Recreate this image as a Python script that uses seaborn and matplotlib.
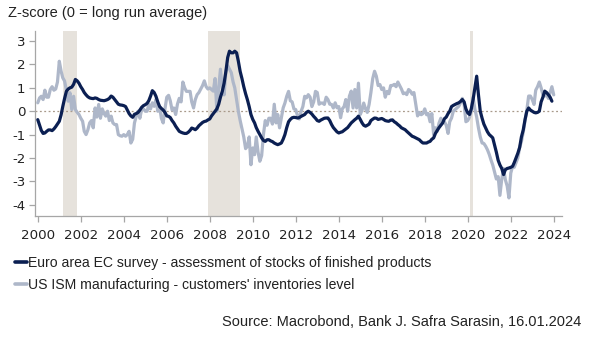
import pandas as pd
import matplotlib
matplotlib.use("Agg")
import matplotlib.pyplot as plt
import matplotlib.dates as mdates
from matplotlib.lines import Line2D
import seaborn as sns

# Monthly z-scores, Jan 2000 onwards
euro_area = [
    -0.36, -0.6, -0.82, -0.95, -0.93, -0.86, -0.8, -0.8, -0.83, -0.76, -0.66, -0.55,   # 2000
    -0.43, -0.15, 0.2, 0.55, 0.85, 0.95, 1.0, 1.03, 1.15, 1.36, 1.3, 1.2,               # 2001
    1.05, 0.93, 0.8, 0.7, 0.62, 0.57, 0.55, 0.54, 0.57, 0.55, 0.5, 0.47,                # 2002
    0.46, 0.45, 0.47, 0.5, 0.55, 0.65, 0.6, 0.5, 0.4, 0.3, 0.27, 0.26,                  # 2003
    0.24, 0.2, 0.05, -0.1, -0.2, -0.26, -0.13, -0.1, -0.05, 0.05, 0.17, 0.24,           # 2004
    0.28, 0.34, 0.45, 0.65, 0.88, 0.8, 0.64, 0.4, 0.2, 0.12, 0.05, -0.05,               # 2005
    -0.2, -0.22, -0.27, -0.4, -0.5, -0.64, -0.75, -0.86, -0.9, -0.93, -0.95, -0.95,     # 2006
    -0.9, -0.82, -0.72, -0.75, -0.79, -0.72, -0.62, -0.55, -0.48, -0.44, -0.42, -0.37,  # 2007
    -0.33, -0.2, -0.1, 0.0, 0.1, 0.3, 0.6, 0.85, 1.2, 1.7, 2.3, 2.57,                   # 2008
    2.5, 2.5, 2.57, 2.5, 2.14, 1.7, 1.4, 1.05, 0.75, 0.5, 0.2, -0.14,                   # 2009
    -0.35, -0.5, -0.7, -0.86, -1.0, -1.14, -1.25, -1.29, -1.22, -1.22, -1.27, -1.3,     # 2010
    -1.36, -1.4, -1.43, -1.4, -1.36, -1.2, -1.0, -0.7, -0.45, -0.35, -0.28, -0.26,      # 2011
    -0.27, -0.29, -0.27, -0.22, -0.18, -0.14, -0.05, 0.0, -0.05, -0.12, -0.22, -0.3,    # 2012
    -0.4, -0.43, -0.38, -0.34, -0.3, -0.29, -0.29, -0.4, -0.57, -0.7, -0.79, -0.88,     # 2013
    -0.93, -0.9, -0.88, -0.82, -0.76, -0.7, -0.6, -0.5, -0.43, -0.36, -0.3, -0.21,      # 2014
    -0.35, -0.5, -0.6, -0.64, -0.6, -0.55, -0.4, -0.34, -0.29, -0.3, -0.35, -0.33,      # 2015
    -0.31, -0.35, -0.4, -0.42, -0.43, -0.38, -0.37, -0.45, -0.5, -0.57, -0.63, -0.71,   # 2016
    -0.75, -0.79, -0.86, -0.93, -1.0, -1.07, -1.1, -1.14, -1.18, -1.22, -1.3, -1.36,    # 2017
    -1.36, -1.36, -1.32, -1.29, -1.2, -1.14, -0.95, -0.82, -0.7, -0.6, -0.5, -0.32,     # 2018
    -0.25, -0.1, 0.0, 0.2, 0.25, 0.29, 0.33, 0.36, 0.42, 0.5, 0.4, 0.1,                 # 2019
    -0.07, -0.14, 0.1, 0.5, 1.0, 1.5, 0.71, 0.0, -0.3, -0.55, -0.72, -0.88,             # 2020
    -1.0, -1.07, -1.14, -1.45, -1.75, -2.1, -2.3, -2.45, -2.71, -2.5, -2.45, -2.43,     # 2021
    -2.4, -2.36, -2.2, -2.0, -1.8, -1.55, -1.1, -0.8, -0.35, 0.0, 0.14, 0.05,           # 2022
    0.0, -0.05, -0.07, -0.05, 0.0, 0.4, 0.6, 0.86, 0.8, 0.71, 0.6, 0.43,                # 2023
]

us_ism = [
    0.36, 0.57, 0.64, 0.5, 0.9, 0.6, 0.6, 0.93, 1.05, 0.9, 0.95, 1.25,                  # 2000
    2.14, 1.71, 1.43, 1.29, 0.9, 0.43, 0.79, 0.07, 0.64, 0.07, -0.05, -0.14,            # 2001
    -0.3, -0.43, -0.86, -1.0, -0.8, -0.5, -0.4, -0.71, 0.14, -0.25, 0.29, -0.3,         # 2002
    0.1, -0.1, -0.21, 0.0, -0.4, -0.21, -0.5, -0.57, -0.57, -1.0, -1.05, -1.07,         # 2003
    -1.0, -1.07, -1.0, -0.86, -1.36, -1.2, -0.5, -0.21, 0.0, -0.3, 0.1, 0.1,            # 2004
    0.0, 0.0, 0.3, 0.1, 0.36, 0.21, 0.5, 0.0, 0.2, -0.3, -0.5, 0.1,                     # 2005
    0.6, 0.68, 0.45, 0.05, 0.14, -0.14, 0.3, 0.55, 0.4, 1.25, 1.0, 0.85,                # 2006
    0.85, 0.85, 0.4, 0.14, 0.5, 0.71, 0.8, 0.95, 1.1, 1.3, 1.05, 0.95,                  # 2007
    1.0, 0.93, 0.86, 1.4, 0.0, 1.0, 1.8, 1.0, 0.7, 1.7, 1.95, 1.8,                      # 2008
    1.65, 1.25, 1.0, 0.5, 0.0, -0.4, -0.75, -1.1, -1.6, -1.5, -1.1, -2.29,              # 2009
    -1.57, -1.86, -1.1, -1.75, -2.14, -1.9, -1.0, -0.4, -0.6, -0.3, -0.3, -0.55,        # 2010
    0.3, -0.5, -0.14, -0.71, -0.29, 0.14, 0.35, 0.64, 0.85, 0.45, 0.4, 0.1,             # 2011
    0.07, -0.2, -0.33, 0.0, 0.2, 0.64, 0.57, 0.71, 0.6, 0.2, 0.4, 0.85,                 # 2012
    0.8, 0.3, 0.35, 0.35, 0.29, 0.6, 0.5, 0.3, 0.29, 0.14, 0.36, 0.15,                  # 2013
    0.2, -0.28, 0.1, 0.2, 0.5, 0.0, 0.65, 0.86, 0.14, 0.93, 0.14, 1.2,                  # 2014
    -0.14, 0.05, 0.35, 0.1, -0.05, 0.3, 0.8, 1.4, 1.71, 1.5, 1.1, 1.14,                 # 2015
    0.93, 1.0, 0.6, 0.85, 0.75, 1.1, 1.1, 1.15, 1.05, 1.25, 1.1, 0.95,                  # 2016
    0.75, 0.78, 0.71, 0.93, 0.86, 0.73, 0.8, 0.3, -0.2, -0.05, -0.15, -0.1,             # 2017
    0.1, -0.15, -0.1, -0.45, -0.1, -1.0, -0.71, -0.86, -0.5, -0.3, -0.5, -0.45,         # 2018
    -0.6, -0.95, -0.45, -0.29, 0.0, 0.07, 0.14, 0.21, 0.36, 0.55, 0.3, -0.45,           # 2019
    -0.4, -0.25, 0.0, 0.6, 0.1, -0.25, -0.71, -1.1, -1.36, -1.38, -1.5, -1.65,          # 2020
    -1.85, -2.1, -2.3, -2.6, -2.9, -2.8, -3.6, -2.9, -2.45, -2.93, -3.2, -3.71,         # 2021
    -2.65, -2.36, -2.4, -2.2, -2.0, -1.55, -1.3, -0.9, -0.4, 0.05, 0.65, 0.65,          # 2022
    0.5, 0.29, 0.9, 1.05, 1.25, 1.0, 0.7, 0.65, 0.72, 0.55, 0.8, 1.05,                  # 2023
    0.7,                                                                                # 2024
]

euro_label = "Euro area EC survey - assessment of stocks of finished products"
us_label = "US ISM manufacturing - customers' inventories level"

# US recessions (shaded)
recession_starts = ["2001-03-01", "2007-12-01", "2020-02-01"]
recession_ends = ["2001-11-01", "2009-06-01", "2020-04-01"]

y_ticks = [3, 2, 1, 0, -1, -2, -3, -4]

dates_eu = pd.date_range("2000-01-01", periods=len(euro_area), freq="MS")
dates_us = pd.date_range("2000-01-01", periods=len(us_ism), freq="MS")
df = pd.concat([
    pd.DataFrame({"date": dates_us, "value": us_ism, "series": us_label}),
    pd.DataFrame({"date": dates_eu, "value": euro_area, "series": euro_label}),
])

sns.set_theme(style="white")
plt.rcParams["font.family"] = ["DejaVu Sans"]

navy = "#0b1f52"
lightblue = "#aeb7c9"
axis_grey = "#a6a6a6"
text_col = "#222222"

fig = plt.figure(figsize=(5.89, 3.39), dpi=100)
ax = fig.add_axes([0.0594, 0.3617, 0.8947, 0.548])

for s, e in zip(recession_starts, recession_ends):
    ax.axvspan(pd.Timestamp(s), pd.Timestamp(e), color="#e6e2dc", lw=0, zorder=0)

ax.axhline(0, color="#a8998a", lw=0.9, ls=(0, (1.5, 2)), zorder=1)

sns.lineplot(data=df, x="date", y="value", hue="series",
             hue_order=[us_label, euro_label],
             palette={us_label: lightblue, euro_label: navy},
             linewidth=2.3, legend=False, ax=ax, zorder=3)

ax.set_xlim(pd.Timestamp("1999-11-15"), pd.Timestamp("2024-05-20"))
ax.set_ylim(-4.5, 3.45)
ax.set_yticks(y_ticks)
ax.set_yticklabels([str(t) for t in y_ticks])
ax.xaxis.set_major_locator(mdates.YearLocator(2))
ax.xaxis.set_major_formatter(mdates.DateFormatter("%Y"))
ax.set_xlabel("")
ax.set_ylabel("")

for side in ["top", "right"]:
    ax.spines[side].set_visible(False)
for side in ["left", "bottom"]:
    ax.spines[side].set_color(axis_grey)
    ax.spines[side].set_linewidth(0.9)
ax.tick_params(axis="both", which="major", length=4, width=0.9, color=axis_grey,
               labelsize=9.6, labelcolor=text_col, pad=3)
ax.tick_params(axis="x", bottom=True, pad=5)
ax.tick_params(axis="y", left=True)

sans = ["Liberation Sans", "DejaVu Sans"]

fig.text(8 / 589, 1 - 13 / 339, "Z-score (0 = long run average)", fontsize=10.5,
         color=text_col, va="center", ha="left", family=sans)

handles = [Line2D([], [], color=navy, lw=2.6), Line2D([], [], color=lightblue, lw=2.6)]
fig.legend(handles, [euro_label, us_label], loc="upper left",
           bbox_to_anchor=(15 / 589, 1 - 256 / 339), frameon=False,
           handlelength=0.85, handletextpad=0.1, labelspacing=0.58,
           prop={"family": sans, "size": 10.05}, labelcolor=text_col,
           borderaxespad=0, borderpad=0)

fig.text(581 / 589, 1 - 322 / 339, "Source: Macrobond, Bank J. Safra Sarasin, 16.01.2024",
         fontsize=10.5, color=text_col, va="center", ha="right", family=sans)

fig.savefig("out.png", dpi=100)
